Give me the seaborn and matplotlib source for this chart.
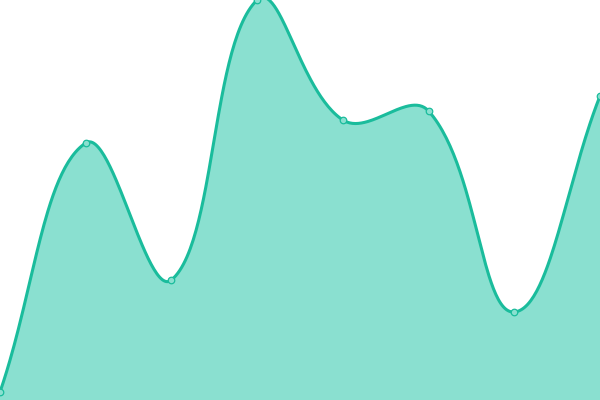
import numpy as np
import pandas as pd
import matplotlib
matplotlib.use("Agg")
import matplotlib.pyplot as plt
import seaborn as sns

# values (0 = bottom, 400 = top)
labels = ["A", "B", "C", "D", "E", "F", "G", "H"]
values = [8, 257, 120, 400, 280, 289, 88, 304]

line_color = "#1abc9c"
fill_color = "#8ae0d0"

sns.set_style("white")

df = pd.DataFrame({"label": labels, "value": values})
df["x"] = np.arange(len(df)) * 600 / (len(df) - 1)


# chart.js style bezier smoothing (tension 0.4)
def spline_path(xs, ys, tension=0.4, steps=60):
    n = len(xs)
    cps = []
    for i in range(n):
        px, py = (xs[i - 1], ys[i - 1]) if i > 0 else (xs[i], ys[i])
        nx, ny = (xs[i + 1], ys[i + 1]) if i < n - 1 else (xs[i], ys[i])
        d01 = np.hypot(xs[i] - px, ys[i] - py)
        d12 = np.hypot(nx - xs[i], ny - ys[i])
        tot = d01 + d12
        s01 = d01 / tot if tot else 0
        s12 = d12 / tot if tot else 0
        fa, fb = tension * s01, tension * s12
        prev_cp = (xs[i] - fa * (nx - px), ys[i] - fa * (ny - py))
        next_cp = (xs[i] + fb * (nx - px), ys[i] + fb * (ny - py))
        cps.append((prev_cp, next_cp))
    t = np.linspace(0, 1, steps)
    out_x, out_y = [], []
    for i in range(n - 1):
        p0 = np.array([xs[i], ys[i]])
        p1 = np.array(cps[i][1])
        p2 = np.array(cps[i + 1][0])
        p3 = np.array([xs[i + 1], ys[i + 1]])
        seg = ((1 - t) ** 3)[:, None] * p0 + (3 * (1 - t) ** 2 * t)[:, None] * p1 \
            + (3 * (1 - t) * t ** 2)[:, None] * p2 + (t ** 3)[:, None] * p3
        out_x.extend(seg[:, 0])
        out_y.extend(seg[:, 1])
    return np.array(out_x), np.array(out_y)


cx, cy = spline_path(df["x"].values, df["value"].values)

fig = plt.figure(figsize=(6, 4), dpi=100)
ax = fig.add_axes([0, 0, 1, 1])
ax.fill_between(cx, cy, 0, color=fill_color, linewidth=0)
ax.plot(cx, cy, color=line_color, linewidth=2.2, solid_capstyle="round")
sns.scatterplot(data=df, x="x", y="value", ax=ax, s=22, color=fill_color,
                edgecolor=line_color, linewidth=0.9, zorder=3, legend=False)

ax.set_xlim(0, 600)
ax.set_ylim(0, 400)
ax.axis("off")

fig.savefig("out.png", dpi=100)
